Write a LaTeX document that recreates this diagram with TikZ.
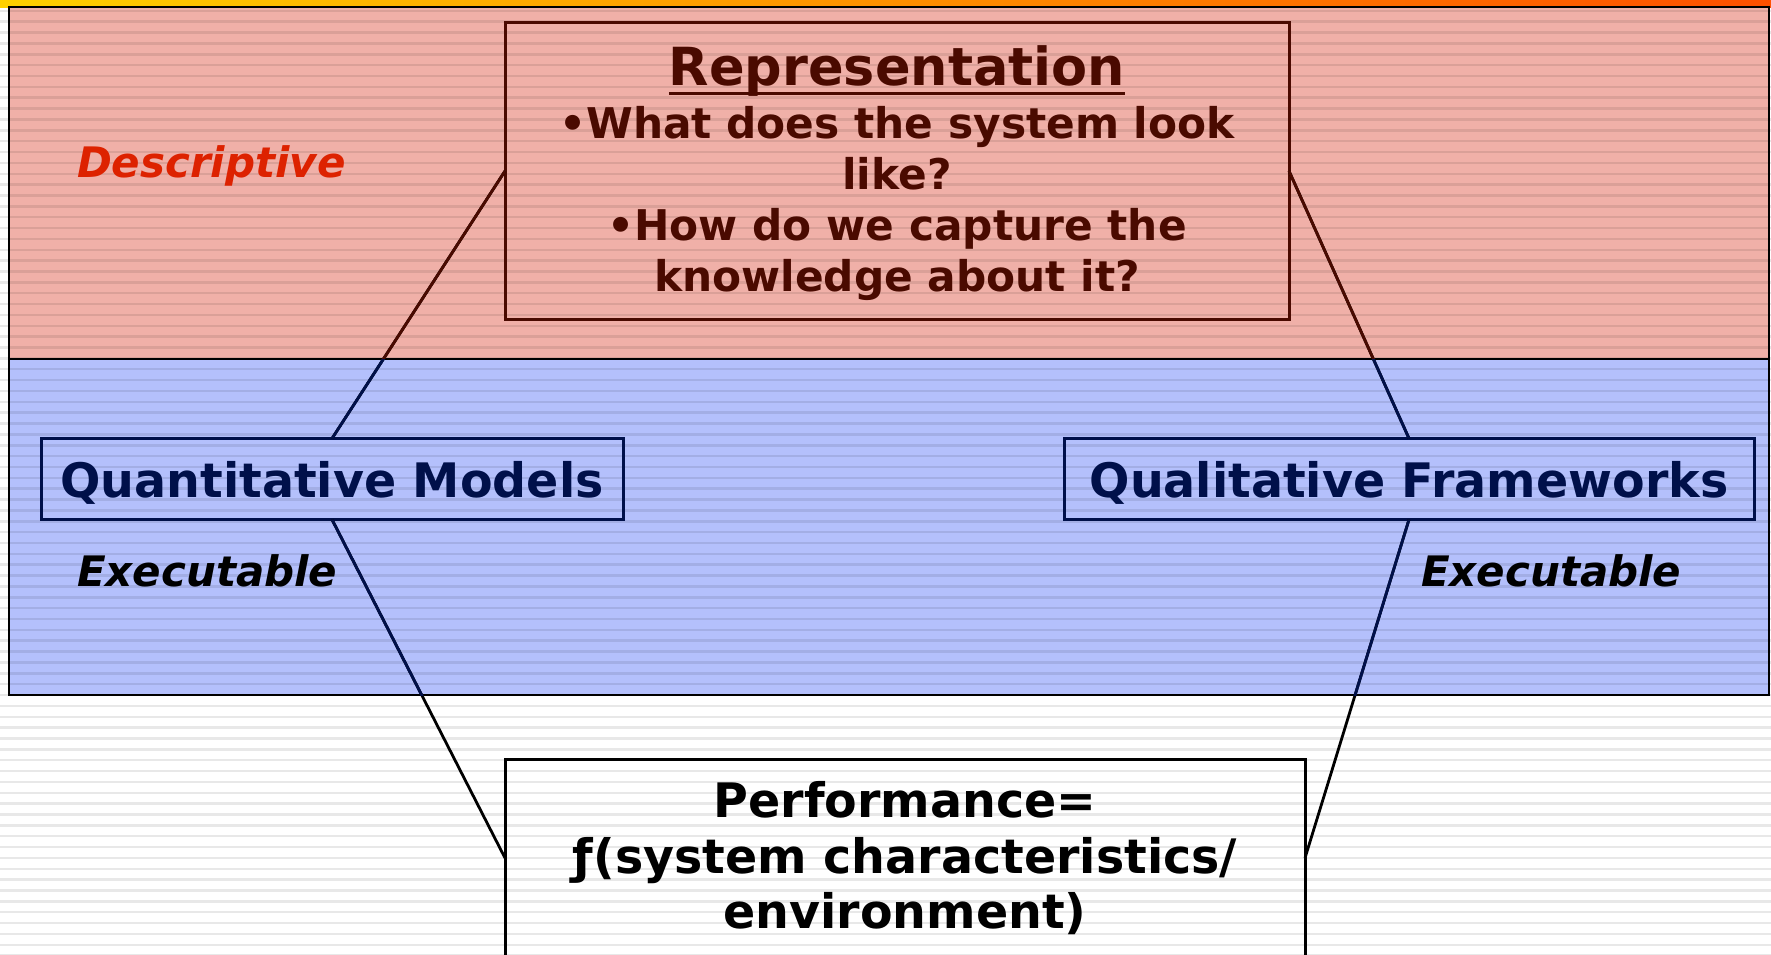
\documentclass[tikz,border=0pt]{standalone}
\usepackage{fontspec}
\setmainfont{DejaVu Sans}
\definecolor{barL}{HTML}{FFD000}
\definecolor{barR}{HTML}{FF5000}
\definecolor{redfill}{HTML}{F0B0A8}
\definecolor{bluefill}{HTML}{B4C0FC}
\definecolor{brownc}{HTML}{4A0A00}
\definecolor{navyc}{HTML}{00104A}
\definecolor{descred}{HTML}{DD2200}
\newcommand\myconn[2]{%
  \draw[conn, black] (#1) -- (#2);
  \begin{scope}\clip (9,7) rectangle (1769,359); \draw[conn, brownc] (#1) -- (#2);\end{scope}
  \begin{scope}\clip (9,359) rectangle (1769,695); \draw[conn, navyc] (#1) -- (#2);\end{scope}}
\begin{document}
\begin{tikzpicture}[x=1pt,y=-1pt,
  conn/.style={line width=2.8pt},
  rbox/.style={draw=brownc, line width=3pt, inner sep=0pt, outer sep=0pt},
  nbox/.style={draw=navyc, line width=3pt, inner sep=0pt, outer sep=0pt},
  kbox/.style={draw=black, line width=3pt, inner sep=0pt, outer sep=0pt},
  txt/.style={inner sep=0pt, outer sep=0pt, anchor=base},
  reptitle/.style={txt, text=brownc, font=\fontsize{52.5}{60}\selectfont\bfseries},
  repline/.style={txt, text=brownc, font=\fontsize{42.3}{50}\selectfont\bfseries},
  midtxt/.style={txt, text=navyc, font=\fontsize{47.5}{56}\selectfont\bfseries},
  perftxt/.style={txt, text=black, font=\fontsize{47.5}{56}\selectfont\bfseries},
  sidetxt/.style={txt, anchor=base west, font=\fontsize{42}{50}\selectfont\bfseries\itshape}]
\useasboundingbox (0,0) rectangle (1771,954);
\fill[white] (0,0) rectangle (1771,954);
\shade[left color=barL, right color=barR] (0,0) rectangle (1771,7);
\fill[redfill] (9,7) rectangle (1769,359);
\fill[bluefill] (9,359) rectangle (1769,695);
\foreach \i in {0,...,87} {\fill[black, opacity=0.09] (0,{9.6+\i*10.86}) rectangle (1771,{12.1+\i*10.86});}
\draw[line width=1.5pt] (9,7) rectangle (1769,695);
\draw[line width=2pt] (9,359) -- (1769,359);

% boxes
\node[rbox, minimum width=784pt, minimum height=297pt] (rep) at (897,171) {};
\node[nbox, minimum width=582pt, minimum height=81pt] (quant) at (332,479) {};
\node[nbox, minimum width=690pt, minimum height=81pt] (qual) at (1409,479) {};
\node[kbox, minimum width=800pt, minimum height=198pt] (perf) at (905,858) {};

% connectors
\myconn{rep.west}{quant.north}
\myconn{rep.east}{qual.north}
\myconn{quant.south}{perf.west}
\myconn{qual.south}{perf.east}

% texts
\node[reptitle] (t0) at (897,85) {Representation};
\draw[brownc, line width=3pt] ([yshift=-8pt]t0.base west) -- ([yshift=-8pt]t0.base east);
\node[repline] (t1) at (897,138) {•What does the system look};
\node[repline] (t2) at (897,189) {like?};
\node[repline] (t3) at (897,240) {•How do we capture the};
\node[repline] (t4) at (897,291) {knowledge about it?};

\node[sidetxt, text=descred] (desc) at (77,177) {Descriptive};
\node[midtxt] (quantt) at (332,497) {Quantitative Models};
\node[midtxt] (qualt) at (1409,497) {Qualitative Frameworks};
\node[sidetxt, text=black] (ex1) at (77,586) {Executable};
\node[sidetxt, text=black] (ex2) at (1421,586) {Executable};

\node[perftxt] (p1) at (905,817) {Performance=};
\node[perftxt] (p2) at (905,873) {ƒ(system characteristics/};
\node[perftxt] (p3) at (905,928) {environment)};
\end{tikzpicture}
\end{document}
